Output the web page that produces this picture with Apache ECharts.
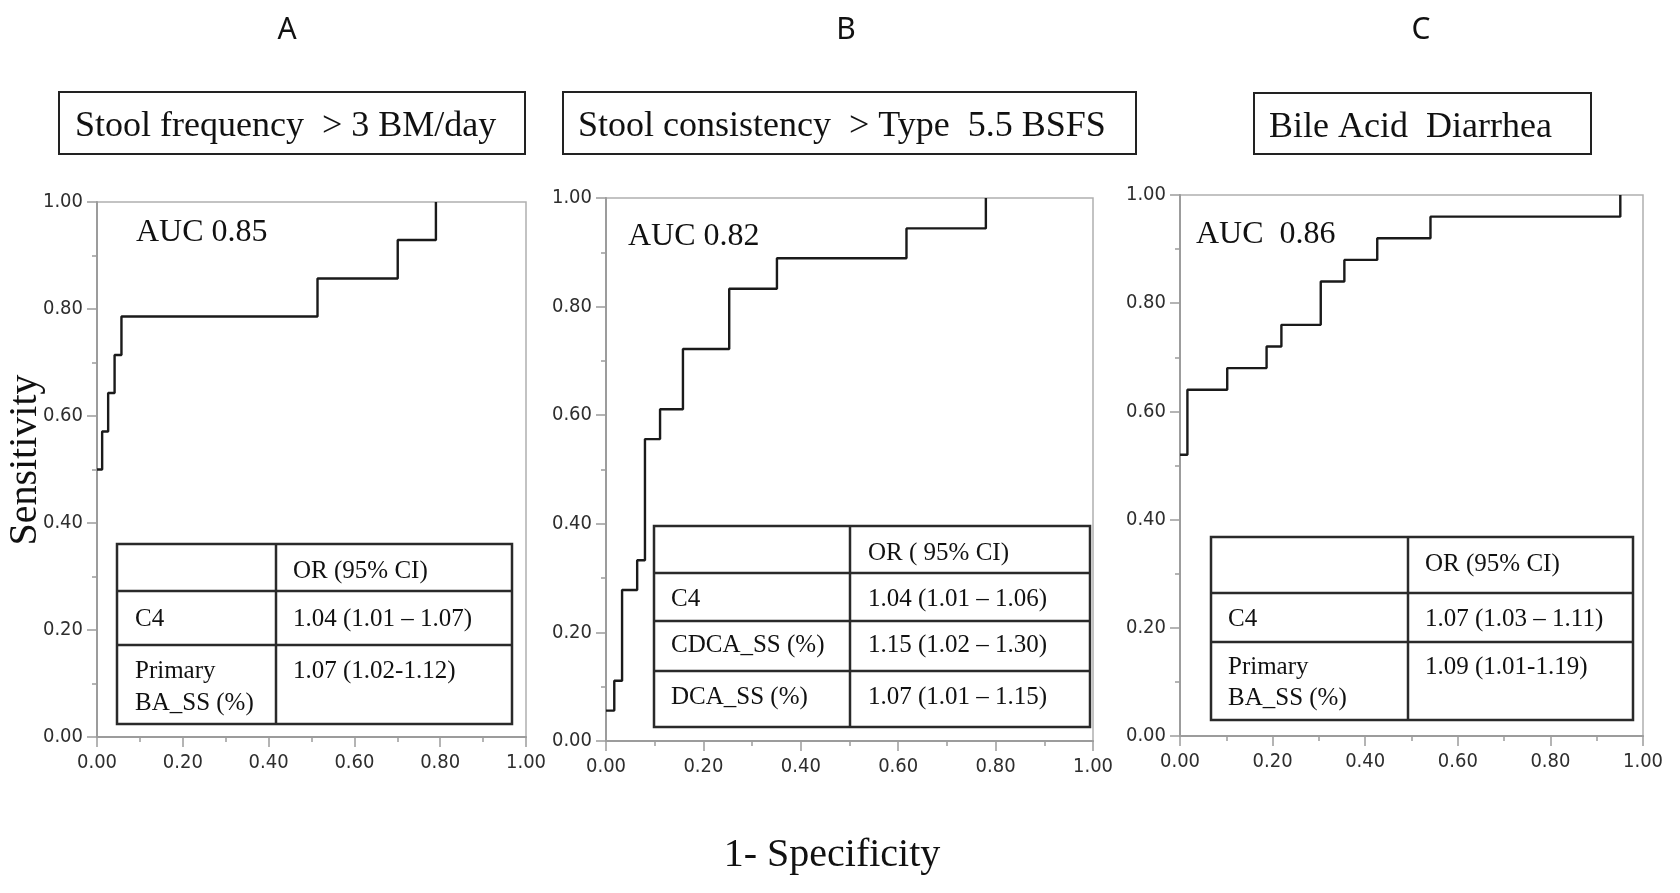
<!DOCTYPE html>
<html>
<head>
<meta charset="utf-8">
<script src="https://cdn.jsdelivr.net/npm/echarts@6/dist/echarts.min.js"></script>
<style>
  html, body { margin: 0; padding: 0; background: #fff; overflow: hidden; }
  #chart { width: 1680px; height: 893px; }
</style>
</head>
<body>
<div id="chart"></div>
<script>
// ---- Data ----
const panelLetters = ['A', 'B', 'C'];
const panelTitles = ['Stool frequency  > 3 BM/day', 'Stool consistency  > Type  5.5 BSFS', 'Bile Acid  Diarrhea'];
const aucLabels = ['AUC 0.85', 'AUC 0.82', 'AUC  0.86'];

// ROC step points (1 - specificity, sensitivity)
const fprA = [0, 0.012, 0.026, 0.041, 0.057, 0.514, 0.701, 0.790];
const tprA = [0.500, 0.571, 0.643, 0.714, 0.786, 0.857, 0.929, 1.000];

const fprB = [0, 0.017, 0.033, 0.064, 0.080, 0.111, 0.158, 0.253, 0.351, 0.617, 0.780];
const tprB = [0.056, 0.111, 0.278, 0.333, 0.556, 0.611, 0.722, 0.833, 0.889, 0.944, 1.000];

const fprC = [0, 0.016, 0.102, 0.187, 0.219, 0.304, 0.355, 0.426, 0.541, 0.951];
const tprC = [0.52, 0.64, 0.68, 0.72, 0.76, 0.84, 0.88, 0.92, 0.96, 1.00];

// Odds-ratio tables
const tableA = [['', 'OR (95% CI)'], ['C4', '1.04 (1.01 \u2013 1.07)'], ['Primary\nBA_SS (%)', '1.07 (1.02-1.12)']];
const tableB = [['', 'OR ( 95% CI)'], ['C4', '1.04 (1.01 \u2013 1.06)'], ['CDCA_SS (%)', '1.15 (1.02 \u2013 1.30)'], ['DCA_SS (%)', '1.07 (1.01 \u2013 1.15)']];
const tableC = [['', 'OR (95% CI)'], ['C4', '1.07 (1.03 \u2013 1.11)'], ['Primary\nBA_SS (%)', '1.09 (1.01-1.19)']];

const xAxisTitle = '1- Specificity';
const yAxisTitle = 'Sensitivity';

// ---- Layout ----
const grids = [
  { left: 97, top: 202, width: 429, height: 535 },
  { left: 606, top: 198, width: 487, height: 543 },
  { left: 1180, top: 195, width: 463, height: 541 }
];
const titleBoxes = [
  { x: 59, y: 92, w: 466, h: 62, tx: 75 },
  { x: 563, y: 92, w: 573, h: 62, tx: 578 },
  { x: 1254, y: 93, w: 337, h: 61, tx: 1269 }
];
const letterPos = [[287, 30], [846, 30], [1421, 30]];
const aucPos = [[136, 233], [628, 237], [1196, 235]];
const tableGeo = [
  { x1: 117, y1: 544, x2: 512, y2: 724, col: 276, rows: [591, 645], c1: 135, c2: 293, ty: [571, 619, [671, 703]], ty2: [571, 619, 671] },
  { x1: 654, y1: 526, x2: 1090, y2: 727, col: 850, rows: [573, 621, 671], c1: 671, c2: 868, ty: [553, 599, 645, 697], ty2: [553, 599, 645, 697] },
  { x1: 1211, y1: 537, x2: 1633, y2: 720, col: 1408, rows: [593, 642], c1: 1228, c2: 1425, ty: [564, 619, [667, 698]], ty2: [564, 619, 667] }
];

const serif = "'Liberation Serif', 'Times New Roman', Times, serif";
const tickFont = "'Liberation Sans Narrow', 'DejaVu Sans Condensed', 'Liberation Sans', Arial, sans-serif";
const axisGray = '#9c9c9c';

const chart = echarts.init(document.getElementById('chart'), null, { renderer: 'canvas' });

function mkAxis(i, margin) {
  return {
    type: 'value', gridIndex: i, min: 0, max: 1, interval: 0.2,
    axisLine: { show: true, onZero: false, lineStyle: { color: axisGray, width: 2 } },
    axisTick: { show: true, inside: false, length: 10, lineStyle: { color: axisGray, width: 1.5 } },
    minorTick: { show: true, splitNumber: 2, length: 5, lineStyle: { color: axisGray, width: 1.5 } },
    splitLine: { show: false },
    axisLabel: { margin: margin, color: '#2e2e2e', fontSize: 20, fontFamily: tickFont, formatter: v => v.toFixed(2) }
  };
}

const rocSets = [[fprA, tprA], [fprB, tprB], [fprC, tprC]];
const series = rocSets.map((s, i) => ({
  type: 'line', xAxisIndex: i, yAxisIndex: i, step: 'end', symbol: 'none', clip: false,
  lineStyle: { color: '#1a1a1a', width: 2.4 },
  data: s[0].map((x, k) => [x, s[1][k]]),
  z: 5, animation: false
}));

const graphic = [];
panelLetters.forEach((t, i) => {
  graphic.push({ type: 'text', x: letterPos[i][0], y: letterPos[i][1],
    style: { text: t, font: "30px 'Noto Sans', 'DejaVu Sans', sans-serif", fill: '#111', textAlign: 'center', textVerticalAlign: 'middle' } });
});
panelTitles.forEach((t, i) => {
  const b = titleBoxes[i];
  graphic.push({ type: 'rect', shape: { x: b.x, y: b.y, width: b.w, height: b.h },
    style: { fill: '#fff', stroke: '#222', lineWidth: 2 } });
  graphic.push({ type: 'text', x: b.tx, y: b.y + b.h / 2 + 4,
    style: { text: t, font: '36px ' + serif, fill: '#111', textAlign: 'left', textVerticalAlign: 'middle' } });
});
aucLabels.forEach((t, i) => {
  graphic.push({ type: 'text', x: aucPos[i][0], y: aucPos[i][1], z: 10,
    style: { text: t, font: '32px ' + serif, fill: '#111', textAlign: 'left', textVerticalAlign: 'middle' } });
});
[tableA, tableB, tableC].forEach((tbl, i) => {
  const g = tableGeo[i];
  graphic.push({ type: 'rect', z: 10, shape: { x: g.x1, y: g.y1, width: g.x2 - g.x1, height: g.y2 - g.y1 },
    style: { fill: '#fff', stroke: '#2a2a2a', lineWidth: 2.5 } });
  graphic.push({ type: 'line', z: 11, shape: { x1: g.col, y1: g.y1, x2: g.col, y2: g.y2 }, style: { stroke: '#2a2a2a', lineWidth: 2.5 } });
  g.rows.forEach(ry => {
    graphic.push({ type: 'line', z: 11, shape: { x1: g.x1, y1: ry, x2: g.x2, y2: ry }, style: { stroke: '#2a2a2a', lineWidth: 2.5 } });
  });
  tbl.forEach((row, r) => {
    const lines = row[0].split('\n');
    const ys = Array.isArray(g.ty[r]) ? g.ty[r] : [g.ty[r]];
    lines.forEach((ln, k) => {
      if (!ln) return;
      graphic.push({ type: 'text', z: 12, x: g.c1, y: ys[k],
        style: { text: ln, font: '25px ' + serif, fill: '#111', textAlign: 'left', textVerticalAlign: 'middle' } });
    });
    graphic.push({ type: 'text', z: 12, x: g.c2, y: g.ty2[r],
      style: { text: row[1], font: '25px ' + serif, fill: '#111', textAlign: 'left', textVerticalAlign: 'middle' } });
  });
});
graphic.push({ type: 'text', x: 832, y: 855,
  style: { text: xAxisTitle, font: '40px ' + serif, fill: '#111', textAlign: 'center', textVerticalAlign: 'middle' } });
graphic.push({ type: 'text', x: 25, y: 460, rotation: Math.PI / 2,
  style: { text: yAxisTitle, font: '40px ' + serif, fill: '#111', textAlign: 'center', textVerticalAlign: 'middle' } });

chart.setOption({
  animation: false,
  backgroundColor: '#ffffff',
  grid: grids.map(g => ({ left: g.left, top: g.top, width: g.width, height: g.height, show: true,
    borderColor: '#b0b0b0', borderWidth: 1.5, backgroundColor: 'transparent', containLabel: false })),
  xAxis: [0, 1, 2].map(i => mkAxis(i, 16)),
  yAxis: [0, 1, 2].map(i => mkAxis(i, 14)),
  series: series,
  graphic: graphic
});
</script>
</body>
</html>
